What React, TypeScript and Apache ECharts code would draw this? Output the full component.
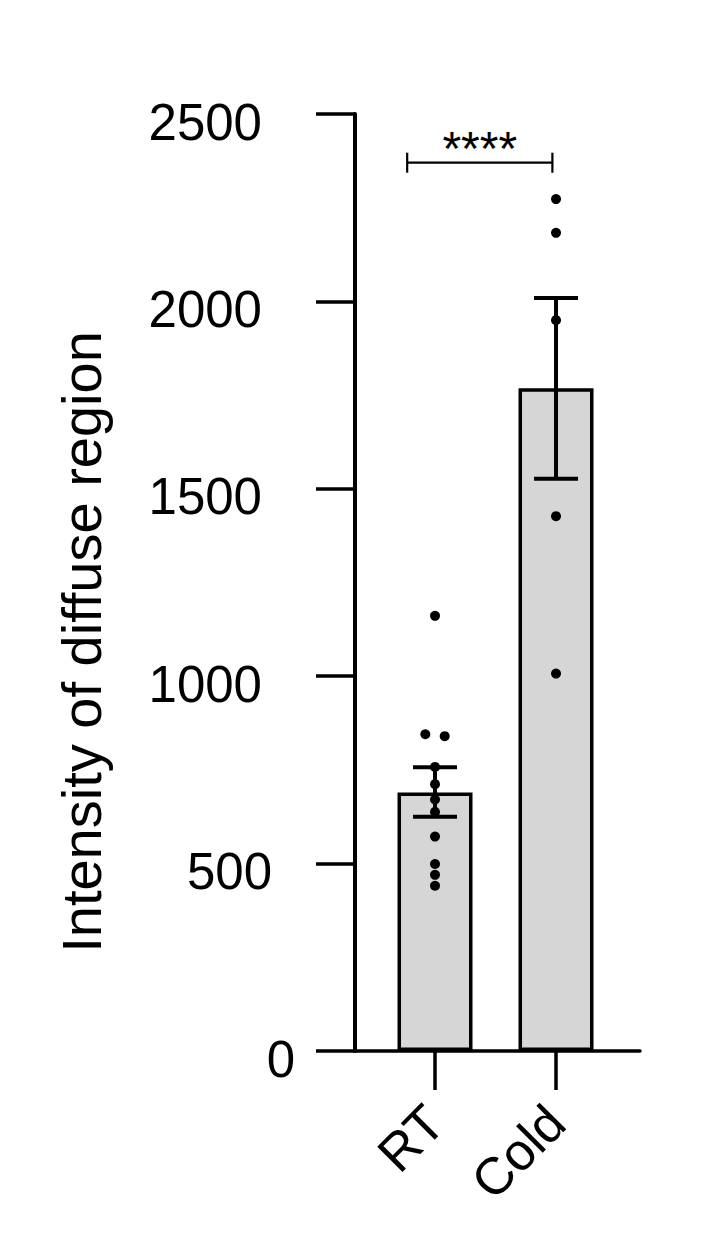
import React, { useEffect, useRef } from "react";
import * as echarts from "echarts";

// ---- data ----
const categories = ["RT", "Cold"];
const categoryPos = [0, 1];
const barMeans = [690, 1768];
const errLow = [625, 1527];
const errHigh = [757, 2009];
const rtDots = [1161, 845, 840, 758, 712, 671, 638, 572, 499, 470, 441];
const rtJitter = [0, -0.08, 0.08, 0, 0, 0, 0, 0, 0, 0, 0];
const coldDots = [2273, 2183, 1950, 1427, 1007];
const coldJitter = [0, 0, 0, 0, 0];
const yTicks = [0, 500, 1000, 1500, 2000, 2500];
const sigLabel = "****";
const sigBracket = [-0.23, 0.97, 2370]; // x-from, x-to, y-value
const yTitle = "Intensity of diffuse region";

const FONT = "'Liberation Sans', Arial, Helvetica, sans-serif";

export default function App() {
  const ref = useRef<HTMLDivElement>(null);

  useEffect(() => {
    document.body.style.margin = "0";
    if (!ref.current) return;
    const chart = echarts.init(ref.current, null, { renderer: "svg" });

    const dots: number[][] = [];
    rtDots.forEach((v, i) => dots.push([categoryPos[0] + rtJitter[i], v]));
    coldDots.forEach((v, i) => dots.push([categoryPos[1] + coldJitter[i], v]));

    const labelRich = (pr: number) => ({
      fontSize: 51,
      fontFamily: FONT,
      color: "#000",
      padding: [16, pr, 0, 0],
    });

    const option: any = {
      animation: false,
      backgroundColor: "#fff",
      grid: { left: 355, top: 114, width: 285, height: 937, containLabel: false },
      xAxis: {
        type: "value",
        min: -0.6612,
        max: 1.694,
        splitLine: { show: false },
        axisLine: { show: true, onZero: false, lineStyle: { color: "#000", width: 3.5 } },
        axisTick: {
          show: true,
          customValues: categoryPos,
          length: 39,
          lineStyle: { color: "#000", width: 3.5 },
        },
        axisLabel: {
          show: true,
          customValues: categoryPos,
          rotate: 45,
          margin: 63,
          fontSize: 52,
          fontFamily: FONT,
          color: "#000",
          padding: [0, 0, 8, 0],
          formatter: (v: number) => categories[Math.round(v)] ?? "",
        },
      },
      yAxis: {
        type: "value",
        min: yTicks[0],
        max: yTicks[yTicks.length - 1],
        interval: 500,
        splitLine: { show: false },
        axisLine: { show: true, onZero: false, lineStyle: { color: "#000", width: 4 } },
        axisTick: { show: true, length: 39, lineStyle: { color: "#000", width: 3.5 } },
        axisLabel: {
          show: true,
          margin: 60,
          fontSize: 51,
          fontFamily: FONT,
          color: "#000",
          formatter: (v: number) => {
            if (v === 0) return "{z|0}";
            if (v === 500) return "{f|500}";
            return "{w|" + v + "}";
          },
          rich: {
            z: labelRich(0),
            f: labelRich(23),
            w: labelRich(33),
          },
        },
      },
      graphic: [
        {
          type: "text",
          x: 81,
          y: 642,
          rotation: Math.PI / 2,
          style: {
            text: yTitle,
            fontSize: 56,
            fontFamily: FONT,
            fill: "#000",
            textAlign: "center",
            textVerticalAlign: "middle",
          },
        },
      ],
      series: [
        {
          type: "bar",
          data: categoryPos.map((x, i) => [x, barMeans[i]]),
          barWidth: 75,
          itemStyle: { color: "#d6d6d6", borderColor: "#000", borderWidth: 3.5 },
          z: 2,
        },
        {
          type: "custom",
          data: categoryPos.map((x, i) => [x, errLow[i], errHigh[i]]),
          encode: { x: 0, y: [1, 2] },
          z: 3,
          renderItem: (params: any, api: any) => {
            const x = api.value(0);
            const pLo = api.coord([x, api.value(1)]);
            const pHi = api.coord([x, api.value(2)]);
            const hw = 22;
            const st = { stroke: "#000", lineWidth: 4 };
            return {
              type: "group",
              children: [
                { type: "line", shape: { x1: pLo[0], y1: pLo[1], x2: pHi[0], y2: pHi[1] }, style: st },
                { type: "line", shape: { x1: pLo[0] - hw, y1: pLo[1], x2: pLo[0] + hw, y2: pLo[1] }, style: st },
                { type: "line", shape: { x1: pHi[0] - hw, y1: pHi[1], x2: pHi[0] + hw, y2: pHi[1] }, style: st },
              ],
            };
          },
        },
        {
          type: "scatter",
          data: dots,
          symbol: "circle",
          symbolSize: 10,
          itemStyle: { color: "#000", opacity: 1 },
          z: 4,
        },
        {
          type: "custom",
          data: [sigBracket],
          encode: { x: [0, 1], y: 2 },
          z: 5,
          renderItem: (params: any, api: any) => {
            const a = api.coord([api.value(0), api.value(2)]);
            const b = api.coord([api.value(1), api.value(2)]);
            const st = { stroke: "#000", lineWidth: 2.2 };
            return {
              type: "group",
              children: [
                { type: "line", shape: { x1: a[0], y1: a[1], x2: b[0], y2: b[1] }, style: st },
                { type: "line", shape: { x1: a[0], y1: a[1] - 10, x2: a[0], y2: a[1] + 10 }, style: st },
                { type: "line", shape: { x1: b[0], y1: b[1] - 10, x2: b[0], y2: b[1] + 10 }, style: st },
                {
                  type: "text",
                  x: (a[0] + b[0]) / 2,
                  y: a[1] - 14,
                  style: {
                    text: sigLabel,
                    fontSize: 48,
                    fontFamily: FONT,
                    fill: "#000",
                    textAlign: "center",
                    textVerticalAlign: "middle",
                  },
                },
              ],
            };
          },
        },
      ],
    };

    chart.setOption(option);
    return () => chart.dispose();
  }, []);

  return <div ref={ref} style={{ width: 727, height: 1233 }} />;
}
